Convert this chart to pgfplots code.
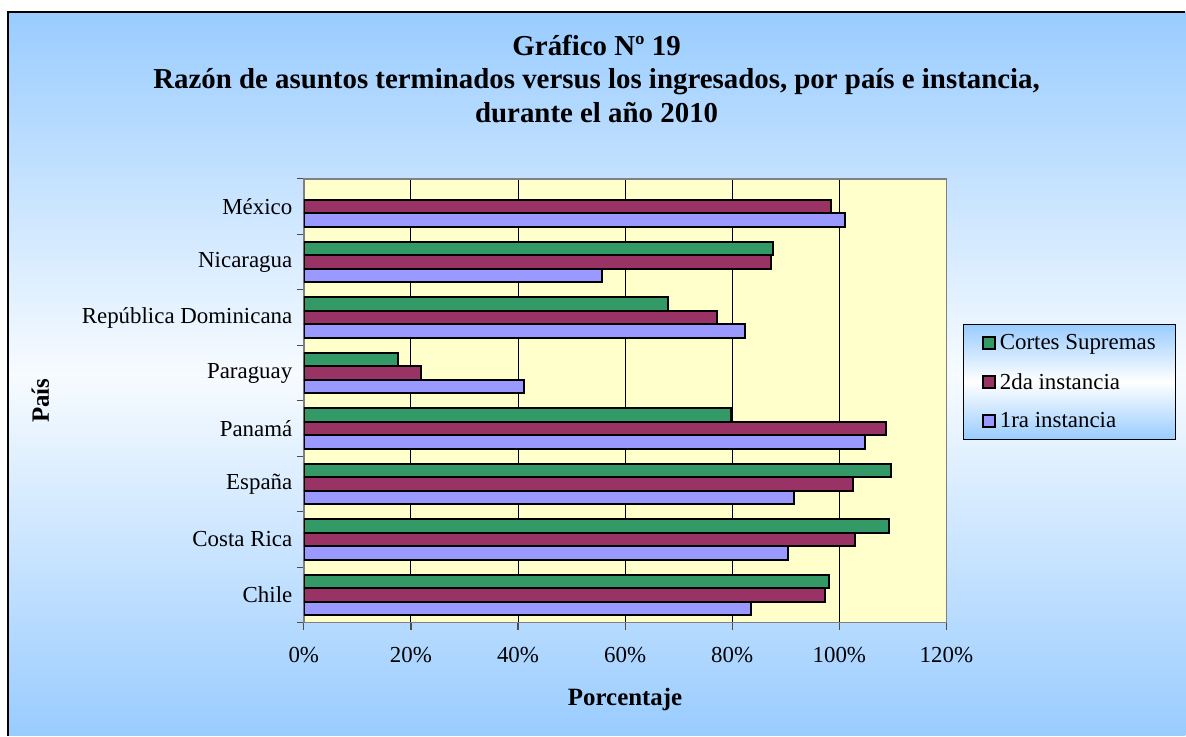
\documentclass[border=0pt]{standalone}
\usepackage{pgfplots}
\pgfplotsset{compat=1.18}
\usepackage{fontspec}
\setmainfont{Liberation Serif}
\definecolor{cgreen}{HTML}{339966}
\definecolor{cmaroon}{HTML}{993366}
\definecolor{cblue}{HTML}{9999FF}
\definecolor{bgblue}{HTML}{99CCFF}
\definecolor{plotbg}{HTML}{FFFFCC}
\newcommand\lbl{\fontsize{23}{27}\selectfont}
\begin{document}
\begin{tikzpicture}[x=1bp,y=1bp]
\fill[white] (0,0) rectangle (1186,736);
\shade[top color=bgblue, bottom color=bgblue, middle color=bgblue!8] (8,0) rectangle (1186,724);
\draw[black, line width=1.5bp] (8,0) -- (8,724) -- (1186,724);
\begin{axis}[
  at={(304bp,113bp)}, anchor=south west,
  scale only axis, width=643bp, height=444bp,
  xbar=0pt, bar width=13.5bp,
  xmin=0, xmax=120, ymin=-0.5, ymax=7.5,
  axis background/.style={fill=plotbg},
  axis line style={black!50, line width=1.5bp},
  xtick={0,20,...,120},
  xticklabels={0\%,20\%,40\%,60\%,80\%,100\%,120\%},
  ytick={0,...,7},
  yticklabels={Chile,Costa Rica,España,Panamá,Paraguay,República Dominicana,Nicaragua,México},
  minor xtick={0,20,...,120},
  minor ytick={-0.5,0.5,...,7.5},
  xtick pos=bottom, ytick pos=left,
  tick align=outside, major tick length=0bp, minor tick length=7bp,
  minor tick style={black!70, line width=1.2bp},
  xmajorgrids, major grid style={black, line width=1bp},
  tick label style={font=\lbl},
  x tick label style={yshift=-21bp},
  y tick label style={xshift=-8bp},
  xlabel={Porcentaje}, ylabel={País},
  label style={font=\bfseries\fontsize{25}{30}\selectfont},
  xlabel style={at={(axis description cs:0.5,-0.173)}, anchor=center},
  ylabel style={at={(axis description cs:-0.410,0.5)}, anchor=center, rotate=0},
  reverse legend,
  legend style={at={(axis description cs:1.0264,0.673)}, anchor=north west,
    draw=black, line width=1bp, top color=bgblue, bottom color=bgblue, middle color=white,
    font=\lbl, inner xsep=18bp, inner ysep=8bp, row sep=18bp,
    nodes={inner sep=2bp},
    /tikz/every odd column/.append style={column sep=2bp}},
  legend cell align=left,
]
\addplot[fill=cblue, draw=black, line width=2bp,
  legend image code/.code={\draw[fill=cblue,draw=black,line width=2bp] (0bp,-6bp) rectangle (12bp,6bp);}]
  coordinates {(83.5,0) (90.5,1) (91.5,2) (104.8,3) (41.1,4) (82.3,5) (55.7,6) (101.0,7)};
\addplot[fill=cmaroon, draw=black, line width=2bp,
  legend image code/.code={\draw[fill=cmaroon,draw=black,line width=2bp] (0bp,-6bp) rectangle (12bp,6bp);}]
  coordinates {(97.3,0) (103.0,1) (102.5,2) (108.8,3) (21.9,4) (77.1,5) (87.2,6) (98.5,7)};
\addplot[fill=cgreen, draw=black, line width=2bp,
  legend image code/.code={\draw[fill=cgreen,draw=black,line width=2bp] (0bp,-6bp) rectangle (12bp,6bp);}]
  coordinates {(98.0,0) (109.3,1) (109.6,2) (79.7,3) (17.5,4) (68.1,5) (87.6,6)};
\legend{1ra instancia,2da instancia,Cortes Supremas}
\end{axis}
\node[align=center, font=\bfseries\fontsize{29}{34}\selectfont] at (597,657)
  {Gráfico Nº 19\\Razón de asuntos terminados versus los ingresados, por país e instancia,\\durante el año 2010};
\end{tikzpicture}
\end{document}
